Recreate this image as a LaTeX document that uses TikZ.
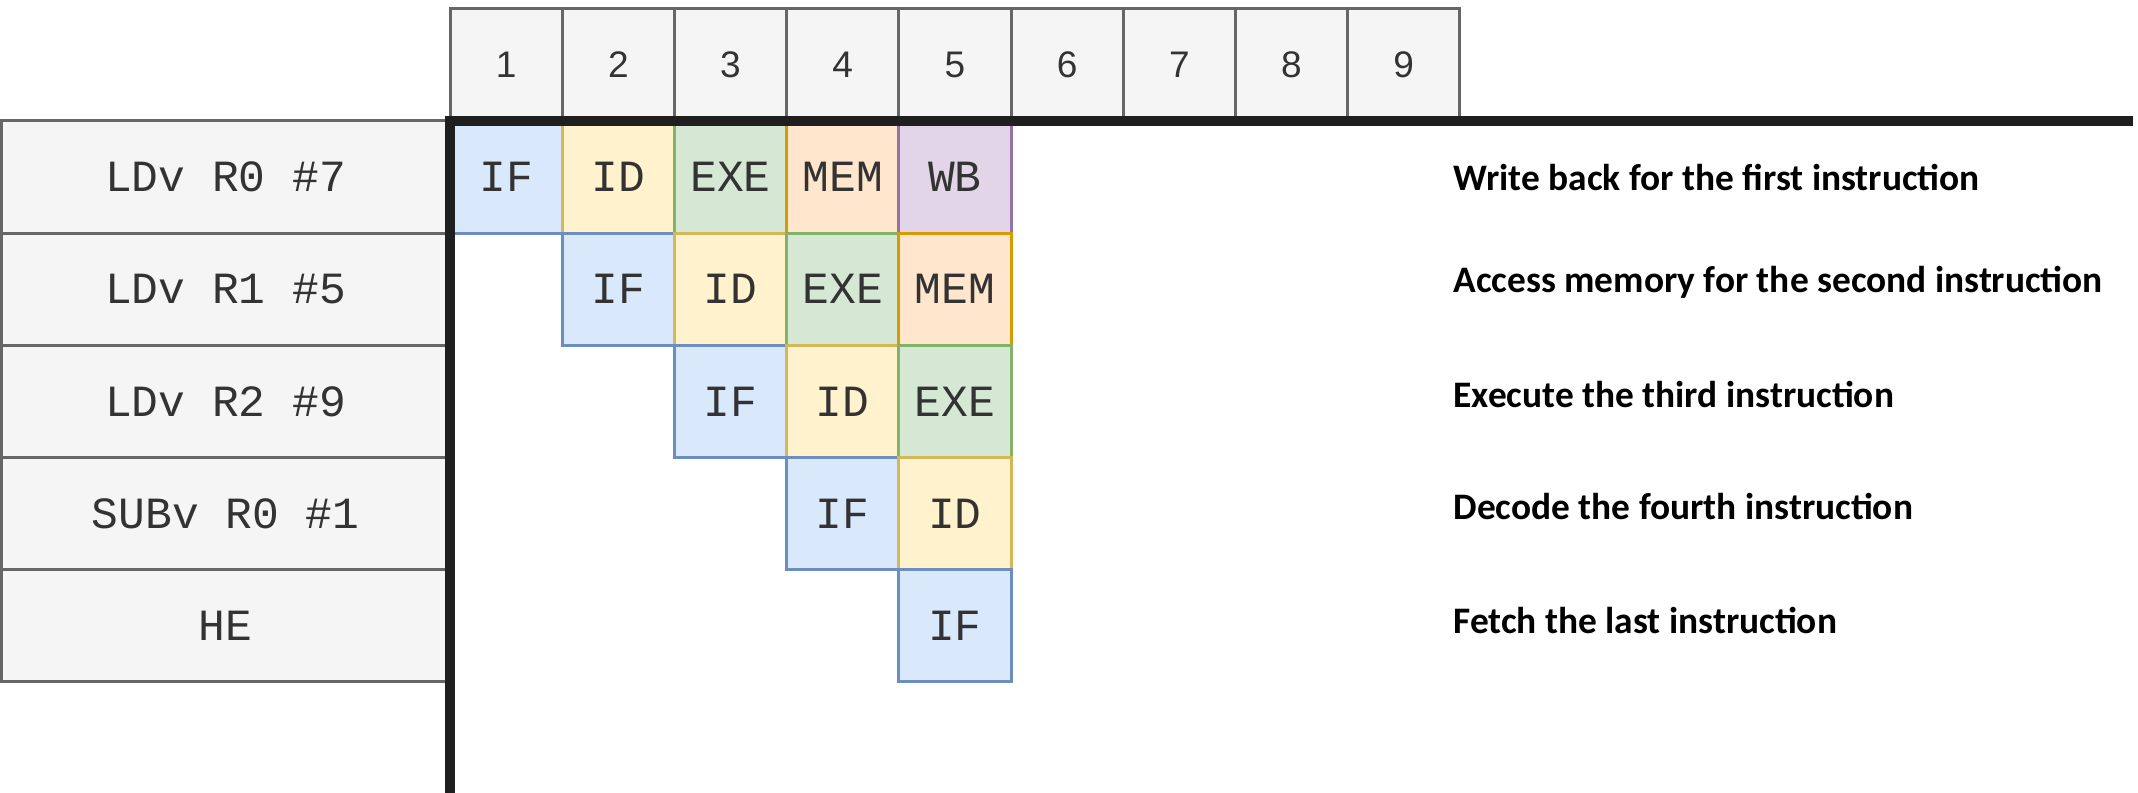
\documentclass[tikz,border=0pt]{standalone}
\usepackage{fontspec}
\setmainfont{Liberation Sans}
\newfontfamily\codefont{Liberation Mono}
\newfontfamily\notefont{Carlito}
\definecolor{boxgray}{HTML}{F5F5F5}
\definecolor{linegray}{HTML}{666666}
\definecolor{textgray}{HTML}{333333}
\definecolor{iffill}{HTML}{DAE8FC}\definecolor{ifline}{HTML}{6C8EBF}
\definecolor{idfill}{HTML}{FFF2CC}\definecolor{idline}{HTML}{D6B656}
\definecolor{exfill}{HTML}{D5E8D4}\definecolor{exline}{HTML}{82B366}
\definecolor{mefill}{HTML}{FFE6CC}\definecolor{meline}{HTML}{D79B00}
\definecolor{wbfill}{HTML}{E1D5E7}\definecolor{wbline}{HTML}{9673A6}
\begin{document}
\begin{tikzpicture}[x=56.1pt, y=56.1pt, line join=miter,
    cell/.style={draw, line width=1.5pt, minimum width=56.1pt, minimum height=56.1pt, inner sep=0pt,
      text=textgray, font=\codefont\fontsize{22.3}{24}\selectfont},
    head/.style={cell, fill=boxgray, draw=linegray, font=\fontsize{18.5}{20}\selectfont},
    instr/.style={cell, fill=boxgray, draw=linegray, minimum width=224.4pt},
    ifc/.style={fill=iffill, draw=ifline}, idc/.style={fill=idfill, draw=idline},
    exc/.style={fill=exfill, draw=exline}, mec/.style={fill=mefill, draw=meline},
    wbc/.style={fill=wbfill, draw=wbline},
    note/.style={anchor=west, inner sep=0pt, font=\notefont\bfseries\fontsize{18.7}{22}\selectfont},
    axis/.style={line width=5pt, draw={rgb,255:red,31;green,31;blue,31}}]
  \useasboundingbox (-4.011,1.078) rectangle (15.045,-5.989);
  % clock cycles
  \foreach \c in {1,...,9}
    \node[head] (h\c) at (\c-0.5,0.5) {\c};
  % instructions
  \foreach \r/\ins in {1/{LDv R0 \#7}, 2/{LDv R1 \#5}, 3/{LDv R2 \#9}, 4/{SUBv R0 \#1}, 5/{HE}}
    \node[instr] (i\r) at (-2,0.5-\r) {\ins};
  % pipeline stages
  \foreach \r in {1,...,5}
    \foreach \st/\sty [count=\k] in {IF/ifc, ID/idc, EXE/exc, MEM/mec, WB/wbc} {
      \pgfmathtruncatemacro{\c}{\r+\k-1}
      \ifnum\c<6
        \node[cell, \sty] (s\r-\c) at (\c-0.5,0.5-\r) {\st};
      \fi
    }
  \coordinate (corner) at (0,0);
  \coordinate (tend) at (15,0);
  \coordinate (lend) at (0,-6.1);
  \draw[axis] (tend) -- (corner) -- (lend);
  \node[note] (n1) at (8.94,-0.50) {Write back for the first instruction};
  \node[note] (n2) at (8.94,-1.44) {Access memory for the second instruction};
  \node[note] (n3) at (8.94,-2.44) {Execute the third instruction};
  \node[note] (n4) at (8.94,-3.44) {Decode the fourth instruction};
  \node[note] (n5) at (8.94,-4.45) {Fetch the last instruction};
\end{tikzpicture}
\end{document}
